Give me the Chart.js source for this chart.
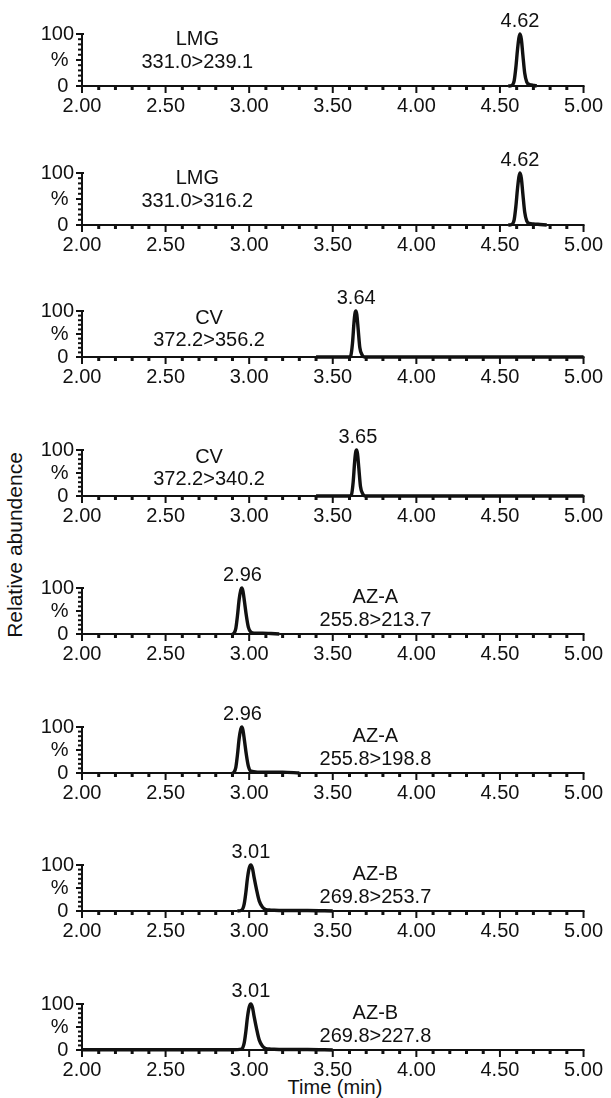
<!DOCTYPE html>
<html>
<head>
<meta charset="utf-8">
<script src="https://cdn.jsdelivr.net/npm/chart.js@4.4.0/dist/chart.umd.min.js"></script>
<style>
html,body{margin:0;padding:0;background:#fff;}
body{width:611px;height:1098px;position:relative;overflow:hidden;font-family:"Liberation Sans",Arial,sans-serif;}
.panel{position:absolute;left:0;width:611px;height:138px;}
#ylab{position:absolute;left:15px;top:545px;transform:translate(-50%,-50%) rotate(-90deg);font-size:21px;white-space:nowrap;color:#111;}
#xlab{position:absolute;left:335px;top:1087px;transform:translate(-50%,-50%);font-size:20px;white-space:nowrap;color:#111;}
</style>
</head>
<body>
<div id="ylab">Relative abundence</div>
<div id="xlab">Time (min)</div>
<script>
// ---------- data ----------
const compounds   = ['LMG','LMG','CV','CV','AZ-A','AZ-A','AZ-B','AZ-B'];
const transitions = ['331.0>239.1','331.0>316.2','372.2>356.2','372.2>340.2','255.8>213.7','255.8>198.8','269.8>253.7','269.8>227.8'];
const peakLabels  = ['4.62','4.62','3.64','3.65','2.96','2.96','3.01','3.01'];
const xTickValues = [2.00,2.50,3.00,3.50,4.00,4.50,5.00];
const yTickValues = [0,50,100];
const yTickLabels = ['0','%','100'];

const t1 = [4.55,4.57,4.585,4.595,4.605,4.613,4.62,4.628,4.637,4.648,4.66,4.675,4.69,4.705,4.72];
const y1 = [0,1,10,35,70,92,100,90,60,25,8,3,2,1,0];
const t2 = [4.55,4.57,4.585,4.595,4.605,4.613,4.62,4.628,4.637,4.648,4.66,4.675,4.70,4.74,4.78];
const y2 = [0,1,10,35,70,92,100,90,60,25,8,3,2,1,0];
const t3 = [3.40,3.60,3.608,3.618,3.627,3.633,3.638,3.644,3.652,3.662,3.675,3.69,3.75,5.00];
const y3 = [0,0,3,30,75,95,100,92,60,20,5,0,0,0];
const t4 = [3.40,3.60,3.612,3.622,3.631,3.637,3.642,3.648,3.656,3.666,3.679,3.694,3.75,5.00];
const y4 = [0,0,3,30,75,95,100,92,60,20,5,0,0,0];
const t5 = [2.90,2.91,2.92,2.93,2.94,2.95,2.956,2.963,2.972,2.983,2.995,3.01,3.03,3.08,3.13,3.18];
const y5 = [0,2,12,40,75,96,100,93,70,40,15,4,2,2,1,0];
const t6 = [2.90,2.91,2.92,2.93,2.94,2.95,2.956,2.963,2.972,2.983,2.995,3.01,3.05,3.12,3.20,3.30];
const y6 = [0,2,12,40,75,96,100,93,70,40,15,4,2,2,2,0];
const t7 = [2.93,2.955,2.97,2.98,2.99,3.00,3.01,3.02,3.03,3.045,3.06,3.08,3.10,3.13,3.20,3.35,3.50];
const y7 = [0,2,15,40,72,93,100,92,72,45,22,8,3,2,1,1,0];
const t8 = [2.00,2.50,2.90,2.955,2.97,2.98,2.99,3.00,3.01,3.02,3.03,3.045,3.06,3.08,3.10,3.13,3.20,3.35,3.50];
const y8 = [0.5,0.5,0.5,2,15,40,72,93,100,92,72,45,22,8,3,2,1,1,0];

const traceTimes  = [t1,t2,t3,t4,t5,t6,t7,t8];
const traceValues = [y1,y2,y3,y4,y5,y6,y7,y8];

// ---------- layout (not data) ----------
const PANEL_H = 138, PANEL_STEP = 138.5, PLOT_TOP = 34;
const plotBottom = [86,86,80,80,80,80,80,80];
const labelCenterX = [2.69,2.69,2.76,2.76,3.755,3.755,3.755,3.755];
const labelLine1 = [5,5,7,7,9,9,9,9];
const labelLine2 = [28,28,29,29,32,32,32,32];
const FONT = '"Liberation Sans", Arial, sans-serif';
const INK = '#111111';

function makePlugin(i){
  return {
    id:'axes'+i,
    beforeDatasetsDraw(chart){
      const {ctx, chartArea:{left,right,top,bottom}, scales:{x,y}} = chart;
      ctx.save();
      ctx.strokeStyle = INK; ctx.fillStyle = INK; ctx.lineWidth = 2;
      ctx.beginPath(); ctx.moveTo(left, top-1); ctx.lineTo(left, bottom+7); ctx.stroke();
      ctx.beginPath(); ctx.moveTo(left-1, top); ctx.lineTo(left+2, top); ctx.stroke();
      ctx.beginPath(); ctx.moveTo(left, bottom); ctx.lineTo(right+1, bottom); ctx.stroke();
      xTickValues.forEach(v=>{
        const px = x.getPixelForValue(v);
        ctx.beginPath(); ctx.moveTo(px, bottom); ctx.lineTo(px, bottom+7); ctx.stroke();
      });
      for (let k=1;k<30;k++){
        if (k%5===0) continue;
        const px = x.getPixelForValue(2 + k*0.1);
        ctx.fillRect(px-1.5, bottom, 3, 4);
      }
      for (let k=0;k<=10;k++){
        const py = y.getPixelForValue(k*10);
        const len = (k%5===0) ? 6 : 4;
        ctx.beginPath(); ctx.moveTo(left-len, py); ctx.lineTo(left, py); ctx.stroke();
      }
      ctx.restore();
    },
    afterDraw(chart){
      const {ctx, chartArea:{top}, scales:{x}} = chart;
      ctx.save();
      ctx.fillStyle = INK;
      ctx.font = '20px ' + FONT;
      ctx.textAlign = 'center'; ctx.textBaseline = 'middle';
      ctx.fillText(peakLabels[i], x.getPixelForValue(parseFloat(peakLabels[i])), top-13);
      const cx = x.getPixelForValue(labelCenterX[i]);
      ctx.fillText(compounds[i], cx, top + labelLine1[i]);
      ctx.fillText(transitions[i], cx, top + labelLine2[i]);
      ctx.restore();
    }
  };
}

for (let i=0;i<8;i++){
  const div = document.createElement('div');
  div.className = 'panel';
  div.style.top = Math.round(i*PANEL_STEP) + 'px';
  const cv = document.createElement('canvas');
  cv.width = 611; cv.height = PANEL_H;
  div.appendChild(cv);
  document.body.appendChild(div);
  const pts = traceTimes[i].map((t,k)=>({x:t, y:traceValues[i][k]}));
  const pb = plotBottom[i];
  new Chart(cv, {
    type:'line',
    data:{datasets:[
      {data:pts, borderColor:INK, borderWidth:3.4, pointRadius:0, cubicInterpolationMode:'monotone', clip:false, fill:false},
      {data:pts, borderColor:'#8a8a8a', borderWidth:0.9, pointRadius:0, cubicInterpolationMode:'monotone', clip:false, fill:false}
    ]},
    options:{
      responsive:false, animation:false,
      layout:{padding:{top:PLOT_TOP, right:23, left:0, bottom:0}},
      plugins:{legend:{display:false}, tooltip:{enabled:false}},
      scales:{
        x:{
          type:'linear', min:2, max:5,
          grid:{display:false, drawTicks:false}, border:{display:false},
          afterBuildTicks:s=>{ s.ticks = xTickValues.map(v=>({value:v})); },
          afterFit:s=>{ s.height = PANEL_H - pb; },
          ticks:{padding:8, color:INK, autoSkip:false, maxRotation:0, font:{size:20, family:FONT},
                 callback:v=>Number(v).toFixed(2)}
        },
        y:{
          type:'linear', min:0, max:100,
          grid:{display:false, drawTicks:false}, border:{display:false},
          afterBuildTicks:s=>{ s.ticks = yTickValues.map(v=>({value:v})); },
          afterFit:s=>{ s.width = 82; },
          ticks:{padding:8, color:INK, autoSkip:false, font:{size:20, family:FONT},
                 callback:v=>{ const l = yTickLabels[yTickValues.indexOf(v)]; return l.length < 3 ? l + ' ' : l; }}
        }
      }
    },
    plugins:[makePlugin(i)]
  });
}
</script>
</body>
</html>
